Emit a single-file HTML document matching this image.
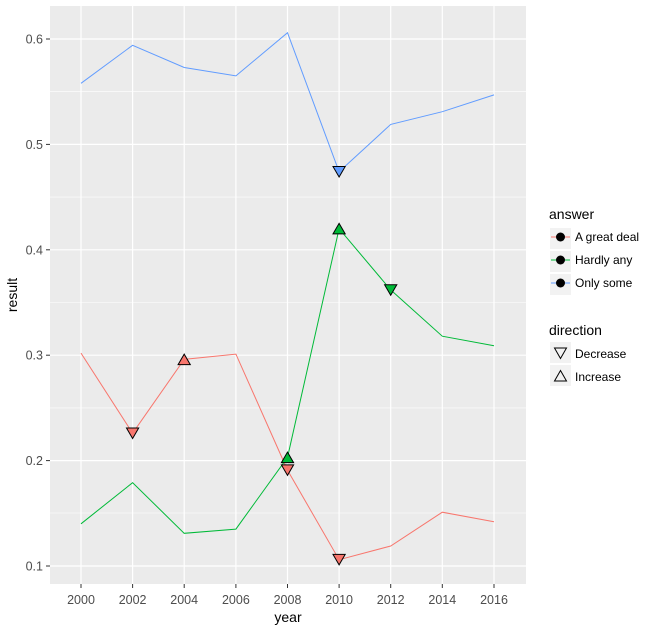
<!DOCTYPE html>
<html><head><style>body{margin:0;background:#fff}svg{display:block}text{font-family:"Liberation Sans",Arial,sans-serif}</style></head><body>
<svg width="655" height="632" viewBox="0 0 655 632" xmlns="http://www.w3.org/2000/svg">
<rect x="50" y="6" width="476" height="578" fill="#EBEBEB"/>
<g stroke="#fff" stroke-width="0.6">
<line x1="50" x2="526" y1="513" y2="513"/><line x1="50" x2="526" y1="407.9" y2="407.9"/><line x1="50" x2="526" y1="302.5" y2="302.5"/><line x1="50" x2="526" y1="197.1" y2="197.1"/><line x1="50" x2="526" y1="91.7" y2="91.7"/>
</g>
<g stroke="#fff" stroke-width="1.2">
<line x1="50" x2="526" y1="566" y2="566"/><line x1="50" x2="526" y1="460.6" y2="460.6"/><line x1="50" x2="526" y1="355.2" y2="355.2"/><line x1="50" x2="526" y1="249.8" y2="249.8"/><line x1="50" x2="526" y1="144.4" y2="144.4"/><line x1="50" x2="526" y1="39" y2="39"/>
<line y1="6" y2="584" x1="81" x2="81"/><line y1="6" y2="584" x1="132.6" x2="132.6"/><line y1="6" y2="584" x1="184.2" x2="184.2"/><line y1="6" y2="584" x1="235.9" x2="235.9"/><line y1="6" y2="584" x1="287.5" x2="287.5"/><line y1="6" y2="584" x1="339.1" x2="339.1"/><line y1="6" y2="584" x1="390.7" x2="390.7"/><line y1="6" y2="584" x1="442.3" x2="442.3"/><line y1="6" y2="584" x1="494" x2="494"/>
</g>
<g fill="none" stroke-width="1">
<polyline stroke="#619CFF" points="81,83.3 132.6,45.3 184.2,67.5 235.9,75.9 287.5,32.7 339.1,171.8 390.7,124.4 442.3,111.7 494,94.9"/>
<polyline stroke="#F8766D" points="81,353.1 132.6,433.2 184.2,359.4 235.9,354.1 287.5,470.1 339.1,559.7 390.7,546 442.3,512.2 494,521.7"/>
<polyline stroke="#00BA38" points="81,523.8 132.6,482.7 184.2,533.3 235.9,529.1 287.5,457.4 339.1,228.7 390.7,289.9 442.3,336.2 494,345.7"/>
</g>
<g stroke="#000" stroke-width="1">
<polygon fill="#619CFF" points="333,166.5 345.2,166.5 339.1,177"/>
<polygon fill="#F8766D" points="126.5,428 138.7,428 132.6,438.5"/>
<polygon fill="#F8766D" points="178.1,364.6 190.3,364.6 184.2,354.1"/>
<polygon fill="#F8766D" points="281.4,464.9 293.6,464.9 287.5,475.4"/>
<polygon fill="#F8766D" points="333,554.4 345.2,554.4 339.1,564.9"/>
<polygon fill="#00BA38" points="281.4,462.6 293.6,462.6 287.5,452.1"/>
<polygon fill="#00BA38" points="333,233.9 345.2,233.9 339.1,223.4"/>
<polygon fill="#00BA38" points="384.6,284.7 396.8,284.7 390.7,295.2"/>
</g>
<g stroke="#333" stroke-width="1">
<line x1="46" x2="50" y1="566" y2="566"/><line x1="46" x2="50" y1="460.6" y2="460.6"/><line x1="46" x2="50" y1="355.2" y2="355.2"/><line x1="46" x2="50" y1="249.8" y2="249.8"/><line x1="46" x2="50" y1="144.4" y2="144.4"/><line x1="46" x2="50" y1="39" y2="39"/>
<line y1="584" y2="588" x1="81" x2="81"/><line y1="584" y2="588" x1="132.6" x2="132.6"/><line y1="584" y2="588" x1="184.2" x2="184.2"/><line y1="584" y2="588" x1="235.9" x2="235.9"/><line y1="584" y2="588" x1="287.5" x2="287.5"/><line y1="584" y2="588" x1="339.1" x2="339.1"/><line y1="584" y2="588" x1="390.7" x2="390.7"/><line y1="584" y2="588" x1="442.3" x2="442.3"/><line y1="584" y2="588" x1="494" x2="494"/>
</g>
<g fill="#4D4D4D" font-size="12.5" text-anchor="end">
<text x="43" y="570.5">0.1</text><text x="43" y="465">0.2</text><text x="43" y="359.7">0.3</text><text x="43" y="254.3">0.4</text><text x="43" y="148.9">0.5</text><text x="43" y="43.5">0.6</text>
</g>
<g fill="#4D4D4D" font-size="12.5" text-anchor="middle">
<text x="81" y="604">2000</text><text x="132.6" y="604">2002</text><text x="184.2" y="604">2004</text><text x="235.9" y="604">2006</text><text x="287.5" y="604">2008</text><text x="339.1" y="604">2010</text><text x="390.7" y="604">2012</text><text x="442.3" y="604">2014</text><text x="494" y="604">2016</text>
</g>
<text x="288" y="622" font-size="14" text-anchor="middle" fill="#000">year</text>
<text transform="translate(17,295) rotate(-90)" font-size="14" text-anchor="middle" fill="#000">result</text>
<text x="549" y="219" font-size="14" fill="#000">answer</text>
<g fill="#F2F2F2"><rect x="550" y="228" width="21" height="21"/><rect x="550" y="251" width="21" height="21"/><rect x="550" y="274" width="21" height="21"/><rect x="550" y="342" width="21" height="21"/><rect x="550" y="365" width="21" height="21"/></g>
<line x1="551" x2="570" y1="237" y2="237" stroke="#F8766D"/><line x1="551" x2="570" y1="260" y2="260" stroke="#00BA38"/><line x1="551" x2="570" y1="283" y2="283" stroke="#619CFF"/>
<circle cx="560.5" cy="237" r="4.5" fill="#000"/><circle cx="560.5" cy="260" r="4.5" fill="#000"/><circle cx="560.5" cy="283" r="4.5" fill="#000"/>
<g font-size="12" fill="#000"><text x="575" y="241">A great deal</text><text x="575" y="264">Hardly any</text><text x="575" y="287">Only some</text><text x="575" y="358">Decrease</text><text x="575" y="381">Increase</text></g>
<text x="549" y="335" font-size="14" fill="#000">direction</text>
<polygon points="554.5,348 566.5,348 560.5,358.5" fill="none" stroke="#000"/>
<polygon points="554.5,381 566.5,381 560.5,370.5" fill="none" stroke="#000"/>
</svg>
</body></html>
